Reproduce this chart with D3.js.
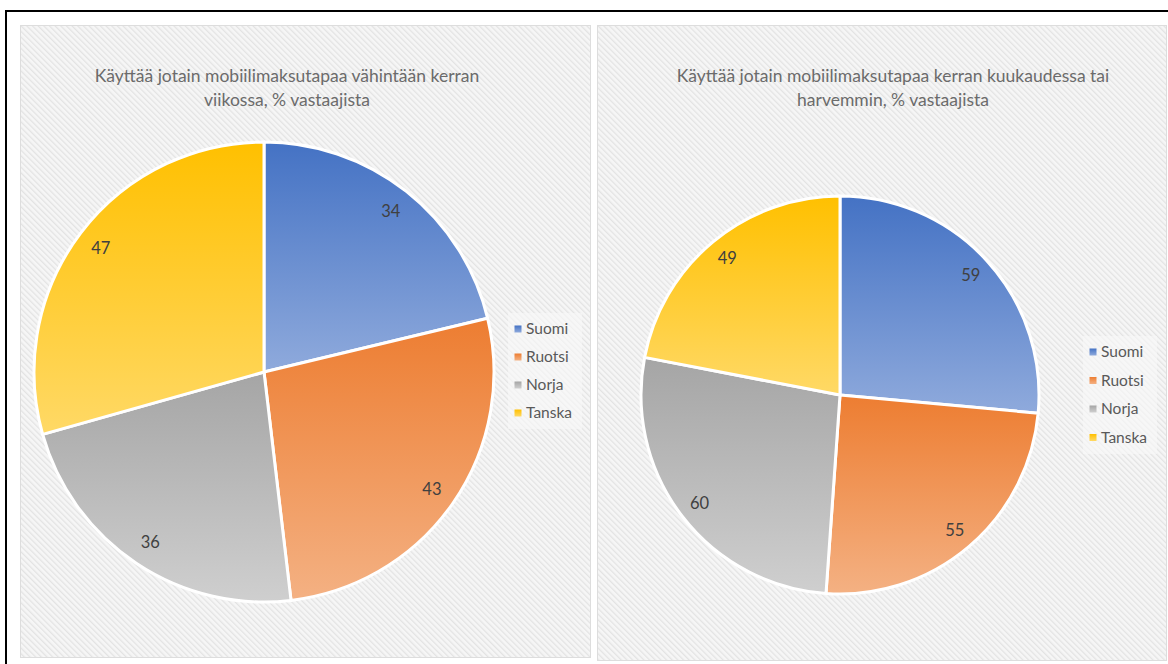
<!DOCTYPE html>
<html>
<head>
<meta charset="utf-8">
<script src="https://cdn.jsdelivr.net/npm/d3@7"></script>
<style>
  html, body { margin: 0; padding: 0; background: #ffffff; }
  svg { display: block; }
  text { font-family: Lato, "Open Sans", sans-serif; }
</style>
</head>
<body>
<svg id="chart" width="1168" height="664"></svg>
<script>
// Countries and response shares (% of respondents)
const categories = ["Suomi", "Ruotsi", "Norja", "Tanska"];
const weeklyValues = [34, 43, 36, 47];
const monthlyValues = [59, 55, 60, 49];
const titles = [
  ["Käyttää jotain mobiilimaksutapaa vähintään kerran", "viikossa, % vastaajista"],
  ["Käyttää jotain mobiilimaksutapaa kerran kuukaudessa tai", "harvemmin, % vastaajista"]
];

// Slice colours: darker tone at the top, lighter tone at the bottom
const topColors = ["#4472C4", "#ED7D31", "#A5A5A5", "#FFC000"];
const bottomColors = ["#8FAADC", "#F4B183", "#CFCFCF", "#FFD966"];

const svg = d3.select("#chart");
const defs = svg.append("defs");

// Diagonal hatch used as the panel background
const pat = defs.append("pattern")
  .attr("id", "hatch")
  .attr("patternUnits", "userSpaceOnUse")
  .attr("width", 4).attr("height", 4)
  .attr("patternTransform", "rotate(-45)");
pat.append("rect").attr("width", 4).attr("height", 4).attr("fill", "#F6F6F6");
pat.append("rect").attr("width", 1.3).attr("height", 4).attr("fill", "#E3E3E3");

categories.forEach((c, i) => {
  const g = defs.append("linearGradient")
    .attr("id", "grad" + i)
    .attr("x1", 0).attr("y1", 0).attr("x2", 0).attr("y2", 1);
  g.append("stop").attr("offset", "0%").attr("stop-color", topColors[i]);
  g.append("stop").attr("offset", "100%").attr("stop-color", bottomColors[i]);
});

// Outer frame
svg.append("rect")
  .attr("x", 6).attr("y", 11)
  .attr("width", 1172).attr("height", 670)
  .attr("fill", "none").attr("stroke", "#000").attr("stroke-width", 2);

const panels = [
  { x: 20, y: 25, w: 570, h: 632, cx: 264, cy: 372, r: 230, titleX: 287, titleY: 82,
    legX: 518, legY: 329, legStep: 28, values: weeklyValues, title: titles[0] },
  { x: 597, y: 25, w: 569, h: 635, cx: 840, cy: 395, r: 199, titleX: 893, titleY: 82,
    legX: 1093, legY: 352, legStep: 28.5, values: monthlyValues, title: titles[1] }
];

const pie = d3.pie().sort(null).value(d => d);

panels.forEach(p => {
  const g = svg.append("g");

  g.append("rect")
    .attr("x", p.x + 0.5).attr("y", p.y + 0.5)
    .attr("width", p.w).attr("height", p.h)
    .attr("fill", "url(#hatch)")
    .attr("stroke", "#DDDDDD").attr("stroke-width", 1);

  // Title
  const t = g.append("text")
    .attr("x", p.titleX).attr("y", p.titleY)
    .attr("text-anchor", "middle")
    .attr("fill", "#6B6B6B")
    .attr("font-size", 17.5);
  p.title.forEach((line, k) => {
    t.append("tspan").attr("x", p.titleX).attr("dy", k === 0 ? 0 : 24).text(line);
  });

  const arc = d3.arc().innerRadius(0).outerRadius(p.r);
  const labelArc = d3.arc().innerRadius(p.r * 0.89).outerRadius(p.r * 0.89);
  const arcs = pie(p.values);

  const pg = g.append("g").attr("transform", `translate(${p.cx},${p.cy})`);
  pg.selectAll("path")
    .data(arcs)
    .join("path")
    .attr("d", arc)
    .attr("fill", (d, i) => `url(#grad${i})`)
    .attr("stroke", "#ffffff")
    .attr("stroke-width", 3)
    .attr("stroke-linejoin", "round");

  pg.selectAll("text")
    .data(arcs)
    .join("text")
    .attr("transform", d => `translate(${labelArc.centroid(d)})`)
    .attr("text-anchor", "middle")
    .attr("dy", "0.35em")
    .attr("fill", "#404040")
    .attr("font-size", 16.5)
    .text(d => d.data);

  // Legend
  const lg = g.append("g");
  lg.append("rect")
    .attr("x", p.legX - 10).attr("y", p.legY - 16)
    .attr("width", 74).attr("height", p.legStep * 4 + 4)
    .attr("fill", "#F9F9F9").attr("opacity", 0.6);
  categories.forEach((c, i) => {
    const y = p.legY + i * p.legStep;
    lg.append("rect")
      .attr("x", p.legX - 3.5).attr("y", y - 3.5)
      .attr("width", 7).attr("height", 7)
      .attr("fill", `url(#grad${i})`);
    lg.append("text")
      .attr("x", p.legX + 8).attr("y", y)
      .attr("dy", "0.35em")
      .attr("fill", "#595959")
      .attr("font-size", 15.5)
      .text(c);
  });
});
</script>
</body>
</html>
